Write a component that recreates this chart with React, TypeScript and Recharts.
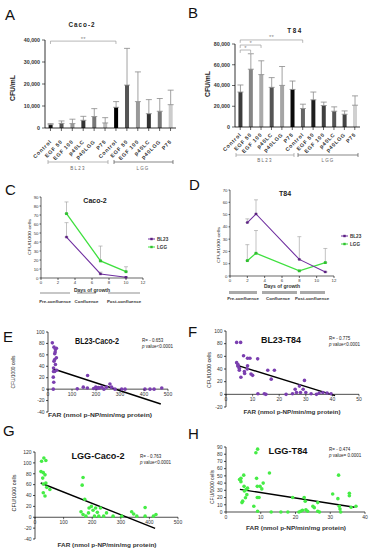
import React from "react";
import {
  BarChart, Bar, Cell, XAxis, YAxis, ErrorBar,
  LineChart, Line, ScatterChart, Scatter, ReferenceLine,
} from "recharts";

const FONT = "'Liberation Sans', Arial, Helvetica, sans-serif";
const PURPLE = "#7030a0";
const GREEN = "#3fe03f";
const DOT_PURPLE = "#7b3fb0";
const DOT_GREEN = "#45ec45";

const TREATMENTS = ["Control", "EGF 50", "EGF 100", "p40LC", "p40LGG", "P75"];
const STRAINS = ["BL23", "LGG"];

// A: Caco-2 adhesion, CFU/mL (6 BL23 then 6 LGG)
const CACO2_CFU = [1500, 2100, 2000, 3500, 5200, 2300, 9400, 19500, 12000, 6500, 7600, 10600];
const CACO2_SD = [500, 1100, 2000, 1800, 3600, 2400, 2600, 16700, 13500, 6400, 5800, 6600];
const CACO2_FILL = ["#111", "#555", "#999", "#333", "#777", "#bbb", "#000", "#555", "#999", "#333", "#777", "#ccc"];

// B: T84 adhesion, CFU/mL
const T84_CFU = [33700, 55700, 50500, 38200, 40100, 36200, 17800, 26200, 20700, 15200, 12300, 21000];
const T84_SD = [6800, 14900, 13300, 9400, 18200, 8100, 4200, 7500, 3300, 4200, 3200, 9000];
const T84_FILL = ["#3c3c3c", "#858585", "#aaa", "#555", "#a5a5a5", "#0a0a0a", "#666", "#1e1e1e", "#404040", "#555", "#444", "#d0d0d0"];

// C: Caco-2, CFU/1000 cells by day of growth
const DAYS_CACO2 = [3, 7, 10];
const BL23_CACO2 = [45.5, 4.5, 0.8];
const BL23_CACO2_SD = [16, 2, 0.5];
const LGG_CACO2 = [71.5, 19, 7];
const LGG_CACO2_SD = [13, 16.5, 5.5];

// D: T84
const DAYS_T84 = [2, 3, 8, 11];
const BL23_T84 = [43.5, 50.5, 13.5, 3.3];
const BL23_T84_SD = [3, 11.5, 18.5, 0];
const LGG_T84 = [12.5, 18.5, 4.2, 10.9];
const LGG_T84_SD = [13, 18.5, 0, 11.5];

// E-H: FAR (nmol p-NP/min/mg protein) vs CFU/1000 cells
const E_FAR = [18, 22, 25, 31, 28, 35, 25, 31, 23, 28, 22, 28, 35, 23, 36, 24, 30, 122, 147, 164, 165, 190, 199, 205, 210, 214, 224, 233, 244, 258, 265, 279, 307, 321, 404, 425, 442, 474];
const E_CFU = [81, 0, 73.5, 69.5, 62, 71.5, 49, 43, 31, 31, 21, 52, 55, 37, 33, 12, 65, 0.5, 3.5, 2, 24, 1, 3.5, 1, 3, 2, 3.5, 0, 3.5, 9, 3.5, 0, 0, 0, 0, 0, 0, 2];
const E_FIT_X = [20, 470];
const E_FIT_Y = [35.7, -26];

const F_FAR = [4, 5.5, 4, 4.5, 5, 6.6, 8.1, 9, 5, 5.6, 6.9, 8.1, 9.4, 11.9, 15.7, 18.2, 17, 14.4, 15, 12, 22.6, 25, 26, 27.6, 29.5, 28, 30, 32, 34, 35, 36.4, 38, 39.5, 8, 7, 26.5, 29, 4.5, 10];
const F_CFU = [82, 82, 50, 44.5, 41, 61, 57, 57, 38, 27, 36, 45, 32, 56, 38, 38, 24, 1, 0, 1, 0, 1, 8, 13, 22, 3, 3, 1, 0, 2, 3, 2, 1, 40, 33, 3, 8, 47, 30];
const F_FIT_X = [4, 41];
const F_FIT_Y = [46, -2];

const G_FAR = [23, 31, 38, 21, 29, 35, 27, 38, 41, 52, 35, 29, 29, 168, 165, 174, 161, 168, 178, 187, 189, 197, 203, 208, 212, 218, 229, 223, 240, 250, 273, 303, 338, 345, 356, 385, 385, 414, 423];
const G_CFU = [103, 109, 104.5, 84, 82, 78, 72, 63, 55, 51, 39, 45, 61, 73, 59, 33, 10, 5, 2, 8, 17, 20, 13, 2, 17, 9, 17, 2, 2, 8, 2, 2, 10, 6, 2, 18, 2, 2, 5];
const G_FIT_X = [20, 420];
const G_FIT_Y = [63, -20.4];

const H_FAR = [4.3, 5.1, 4.3, 5.2, 4.8, 5.6, 5.8, 6.2, 6, 5.3, 8.6, 9.1, 8, 8.8, 9, 9, 9.5, 9.8, 10.7, 9.1, 10.3, 12.5, 13, 15.8, 17.8, 19.2, 21, 21.5, 22.5, 22.8, 22, 23, 23.5, 25, 25.4, 26.4, 26.4, 26.9, 30.7, 32.2, 32.4, 32.6, 32.8, 33, 35.5, 35.5, 36, 37.4, 4.6, 3.9];
const H_CFU = [46.6, 51, 42, 35.5, 15, 19.8, 31, 33, 24, 29, 82, 87, 8, 46.6, 35.5, 20, 20, 35.5, 40, 1, 32, 54, 0, 0, 0, 20, 0, 1, 20, 15, 2.5, 3, 1, 8, 6, 13, 1, 0, 25, 18.5, 51, 8, 4, 0, 26, 22.5, 6.5, 8, 13, 45];
const H_FIT_X = [4, 37];
const H_FIT_Y = [31.4, 6.5];

type Margin = { top: number; right: number; bottom: number; left: number };
type Sig = { from: number; to: number; at: number; drop: number; mark: string };

const range = (lo: number, hi: number, step: number) => {
  const out: number[] = [];
  for (let v = lo; v <= hi + 1e-9; v += step) out.push(v);
  return out;
};

const barRows = (cfu: number[], sd: number[]) =>
  cfu.map((v, i) => ({
    id: `${STRAINS[Math.floor(i / TREATMENTS.length)]}|${TREATMENTS[i % TREATMENTS.length]}`,
    cfu: v,
    sd: [0, sd[i]],
  }));

const growthRows = (days: number[], bl: number[], blSd: number[], lgg: number[], lggSd: number[]) =>
  days.map((d, i) => ({ day: d, bl23: bl[i], bl23Sd: [0, blSd[i]], lgg: lgg[i], lggSd: [0, lggSd[i]] }));

const BarTick = (p: any) => {
  const label = String(p.payload.value).split("|")[1];
  const ax = p.x + 1.5;
  const ay = p.y + p.dy;
  return (
    <text x={ax} y={ay} transform={`rotate(-45 ${ax} ${ay})`} textAnchor="end" fontSize={5.3}
      fontWeight="bold" letterSpacing={0.7} fill="#333" fontFamily={FONT}>
      {label}
    </text>
  );
};

function CfuBars(props: {
  cfu: number[]; sd: number[]; fills: string[]; width: number; height: number; margin: Margin;
  yAxisWidth: number; yMax: number; yStep: number; tickDy: number; sig: Sig[];
}) {
  const { cfu, sd, fills, width, height, margin, yAxisWidth, yMax, yStep, tickDy, sig } = props;
  const rows = barRows(cfu, sd);
  const bracket = { stroke: "#9a9a9a", strokeWidth: 0.7, ifOverflow: "visible" as const };
  return (
    <BarChart width={width} height={height} data={rows} margin={margin} barCategoryGap="33%">
      <XAxis dataKey="id" interval={0} height={30} tickSize={3}
        tickLine={{ stroke: "#000", strokeWidth: 0.6 }} axisLine={{ stroke: "#000", strokeWidth: 0.8 }}
        tick={(p: any) => <BarTick key={p.index} {...p} dy={tickDy} />} />
      <YAxis type="number" width={yAxisWidth} domain={[0, yMax]} ticks={range(0, yMax, yStep)} interval={0}
        tickSize={3} tickLine={{ stroke: "#000", strokeWidth: 0.6 }} axisLine={{ stroke: "#000", strokeWidth: 0.8 }}
        tick={{ fontSize: 5.3, fontWeight: "bold", fill: "#333", fontFamily: FONT }}
        tickFormatter={(v: number) => v.toLocaleString("en-US")} />
      <Bar dataKey="cfu" isAnimationActive={false}>
        {rows.map((r, i) => <Cell key={r.id} fill={fills[i]} />)}
        <ErrorBar dataKey="sd" direction="y" width={3} stroke="#8a8a8a" strokeWidth={0.8} />
      </Bar>
      {sig.flatMap((s, k) => {
        const a = rows[s.from].id;
        const b = rows[s.to].id;
        return [
          <ReferenceLine key={`h${k}`} {...bracket} segment={[{ x: a, y: s.at }, { x: b, y: s.at }]}
            label={{ value: s.mark, position: "top", offset: 0.5, fontSize: 6, fill: "#8a8a8a" }} />,
          <ReferenceLine key={`l${k}`} {...bracket} segment={[{ x: a, y: s.at }, { x: a, y: s.at - s.drop }]} />,
          <ReferenceLine key={`r${k}`} {...bracket} segment={[{ x: b, y: s.at }, { x: b, y: s.at - s.drop }]} />,
        ];
      })}
    </BarChart>
  );
}

function GrowthPanel(props: {
  rows: ReturnType<typeof growthRows>; width: number; height: number; margin: Margin;
  yAxisWidth: number; yMax: number; xAxisHeight: number;
}) {
  const { rows, width, height, margin, yAxisWidth, yMax, xAxisHeight } = props;
  const tick = { fontSize: 4.3, fill: "#333", fontFamily: FONT };
  const axis = { stroke: "#000", strokeWidth: 0.6 };
  return (
    <LineChart width={width} height={height} data={rows} margin={margin}>
      <XAxis type="number" dataKey="day" domain={[0, 12]} ticks={range(0, 12, 2)} interval={0}
        height={xAxisHeight} tickSize={2} tickMargin={1} tick={tick} axisLine={axis} tickLine={axis}
        label={{ value: "Days of growth", position: "insideBottom", offset: 2, fontSize: 5, fontWeight: "bold", fill: "#333" }} />
      <YAxis type="number" domain={[0, yMax]} ticks={range(0, yMax, 10)} interval={0} width={yAxisWidth}
        tickSize={1.5} tickMargin={1} tick={tick} axisLine={axis} tickLine={axis} />
      <Line dataKey="lgg" stroke={GREEN} strokeWidth={1.3} isAnimationActive={false}
        dot={(p: any) => <rect key={p.index} x={p.cx - 1.4} y={p.cy - 1.4} width={2.8} height={2.8} fill="#2fc02f" />}>
        <ErrorBar dataKey="lggSd" direction="y" width={2} stroke="#9a9a9a" strokeWidth={0.6} />
      </Line>
      <Line dataKey="bl23" stroke={PURPLE} strokeWidth={1.1} isAnimationActive={false}
        dot={(p: any) => <rect key={p.index} x={p.cx - 1.2} y={p.cy - 1.2} width={2.4} height={2.4} fill="#5a1f80" />}>
        <ErrorBar dataKey="bl23Sd" direction="y" width={2} stroke="#9a9a9a" strokeWidth={0.6} />
      </Line>
    </LineChart>
  );
}

const CrossTick = (p: any) => {
  const zeroY = p.y - p.shift;
  return (
    <g>
      <line x1={p.x} x2={p.x} y1={zeroY} y2={zeroY + 2} stroke="#000" strokeWidth={0.6} />
      <text x={p.x} y={zeroY + 3} dy="0.72em" textAnchor="middle" fontSize={5} fill="#333" fontFamily={FONT}>
        {p.payload.value}
      </text>
    </g>
  );
};

function FarPanel(props: {
  far: number[]; cfu: number[]; fitX: number[]; fitY: number[]; color: string;
  width: number; height: number; margin: Margin; yAxisWidth: number; xAxisHeight: number;
  xMax: number; xStep: number; yMin: number; yMax: number; yStep: number;
}) {
  const { far, cfu, fitX, fitY, color, width, height, margin, yAxisWidth, xAxisHeight, xMax, xStep, yMin, yMax, yStep } = props;
  const pts = far.map((x, i) => ({ far: x, cfu: cfu[i] }));
  const plotH = height - margin.top - margin.bottom - xAxisHeight;
  const shift = (plotH * (0 - yMin)) / (yMax - yMin);
  const axis = { stroke: "#000", strokeWidth: 0.7 };
  return (
    <ScatterChart width={width} height={height} margin={margin}>
      <XAxis type="number" dataKey="far" domain={[0, xMax]} ticks={range(0, xMax, xStep)} interval={0}
        height={xAxisHeight} tickSize={0} tickMargin={0} tickLine={false}
        axisLine={yMin < 0 ? false : axis}
        tick={(p: any) => <CrossTick key={p.index} {...p} shift={shift} />} />
      <YAxis type="number" dataKey="cfu" domain={[yMin, yMax]} ticks={range(yMin, yMax, yStep)} interval={0}
        width={yAxisWidth} tickSize={2} tickMargin={1.5} axisLine={axis} tickLine={axis}
        tick={{ fontSize: 5, fill: "#333", fontFamily: FONT }} />
      {yMin < 0 && <ReferenceLine y={0} stroke="#000" strokeWidth={0.7} />}
      <Scatter data={pts} fill={color} isAnimationActive={false}
        shape={(p: any) => <circle cx={p.cx} cy={p.cy} r={1.8} fill={color} />} />
      <ReferenceLine segment={[{ x: fitX[0], y: fitY[0] }, { x: fitX[1], y: fitY[1] }]}
        stroke="#000" strokeWidth={1.4} ifOverflow="visible" />
    </ScatterChart>
  );
}

const Abs = ({ left, top, children }: { left: number; top: number; children: React.ReactNode }) => (
  <div style={{ position: "absolute", left, top }}>{children}</div>
);

function VText({ x, y, len, size, bold, children }: any) {
  return (
    <text x={x} y={y} transform={`rotate(-90 ${x} ${y})`} textAnchor="middle" fontSize={size}
      fontWeight={bold ? "bold" : "normal"} textLength={len} lengthAdjust="spacingAndGlyphs" fill="#222">
      {children}
    </text>
  );
}

function Overlay() {
  const letters: [string, number, number][] = [
    ["A", 5, 20], ["B", 188, 18], ["C", 5, 195], ["D", 189, 190],
    ["E", 3, 342], ["F", 188, 337], ["G", 3, 436], ["H", 188, 439],
  ];
  const group = (x1: number, x2: number, y: number, color: string) => (
    <g stroke={color} strokeWidth={0.7}>
      <line x1={x1} x2={x2} y1={y} y2={y} />
      <line x1={x1} x2={x1} y1={y - 2} y2={y + 2} />
      <line x1={x2} x2={x2} y1={y - 2} y2={y + 2} />
    </g>
  );
  const legend = (x: number, y: number, color: string, mark: string, label: string) => (
    <g>
      <line x1={x} x2={x + 7} y1={y} y2={y} stroke={color} strokeWidth={1} />
      <rect x={x + 2.3} y={y - 1.2} width={2.4} height={2.4} fill={mark} />
      <text x={x + 9} y={y + 1.7} fontSize={4.6} fontWeight="bold" fill="#333">{label}</text>
    </g>
  );
  const small = { fontSize: 4.4, fontWeight: "bold" as const, fill: "#333", textAnchor: "middle" as const };
  const rtext = (x: number, y: number, r: string, p: string) => (
    <g fontSize={4.5} fill="#222">
      <text x={x} y={y}>{r}</text>
      <text x={x} y={y + 6}><tspan fontStyle="italic">p</tspan>{p}</text>
    </g>
  );
  return (
    <svg width={372} height={550} fontFamily={FONT}
      style={{ position: "absolute", left: 0, top: 0, pointerEvents: "none" }}>
      {letters.map(([s, x, y]) => (
        <text key={s} x={x} y={y} fontSize={15} fill="#111">{s}</text>
      ))}

      {/* A / B titles, axis names, strain groups */}
      <text x={82} y={27} fontSize={6.3} fontWeight="bold" letterSpacing={1} textAnchor="middle" fill="#222">Caco-2</text>
      <text x={295} y={33} fontSize={6.3} fontWeight="bold" letterSpacing={1.5} textAnchor="middle" fill="#222">T84</text>
      <VText x={15} y={88} len={26} size={8} bold>CFU/mL</VText>
      <VText x={210} y={84} len={26} size={8} bold>CFU/mL</VText>
      {group(48, 108, 162, "#9a9a9a")}
      {group(114, 173, 162, "#555")}
      <text x={78} y={170} fontSize={4.5} letterSpacing={1.2} textAnchor="middle" fill="#666">BL23</text>
      <text x={143} y={170} fontSize={4.5} letterSpacing={1.2} textAnchor="middle" fill="#666">LGG</text>
      {group(236, 294, 155, "#9a9a9a")}
      {group(298, 358, 155, "#555")}
      <text x={265} y={162} fontSize={4.5} letterSpacing={1.2} textAnchor="middle" fill="#666">BL23</text>
      <text x={328} y={162} fontSize={4.5} letterSpacing={1.2} textAnchor="middle" fill="#666">LGG</text>

      {/* C / D */}
      <text x={95} y={203} fontSize={7} fontWeight="bold" textAnchor="middle" fill="#222">Caco-2</text>
      <text x={285} y={196} fontSize={7} fontWeight="bold" textAnchor="middle" fill="#222">T84</text>
      <VText x={31} y={237} len={36} size={4.3}>CFU/1000 cells</VText>
      <VText x={219.5} y={245} len={36} size={4.3}>CFU/1000 cells</VText>
      {legend(148, 239, PURPLE, "#5a1f80", "BL23")}
      {legend(148, 247, GREEN, "#2fc02f", "LGG")}
      {legend(341, 236, PURPLE, "#5a1f80", "BL23")}
      {legend(341, 244, GREEN, "#2fc02f", "LGG")}
      <g stroke="#444" strokeWidth={0.6}>
        <line x1={40} x2={70} y1={293} y2={293} />
        <line x1={77} x2={96} y1={293} y2={293} />
        <line x1={108} x2={140} y1={293} y2={293} />
      </g>
      <text x={55} y={302.5} {...small}>Pre-confluence</text>
      <text x={86.5} y={302.5} {...small}>Confluence</text>
      <text x={124} y={302.5} {...small}>Post-confluence</text>
      <g fill="#aaa">
        <rect x={229} y={291} width={28} height={3} />
        <rect x={262} y={291} width={35} height={3} />
        <rect x={300} y={291} width={25} height={3} />
      </g>
      <text x={243} y={299.5} {...small}>Pre-confluence</text>
      <text x={278} y={299.5} {...small}>Confluence</text>
      <text x={312} y={299.5} {...small}>Post-confluence</text>

      {/* E - H */}
      <text x={97} y={344} fontSize={9.5} fontWeight="bold" textAnchor="middle" textLength={44} lengthAdjust="spacingAndGlyphs" fill="#111">BL23-Caco-2</text>
      <text x={281} y={343} fontSize={9.5} fontWeight="bold" textAnchor="middle" textLength={40} lengthAdjust="spacingAndGlyphs" fill="#111">BL23-T84</text>
      <text x={98} y={459} fontSize={9.5} fontWeight="bold" textAnchor="middle" textLength={53} lengthAdjust="spacingAndGlyphs" fill="#111">LGG-Caco-2</text>
      <text x={288} y={454} fontSize={9.5} fontWeight="bold" textAnchor="middle" textLength={39} lengthAdjust="spacingAndGlyphs" fill="#111">LGG-T84</text>
      {rtext(142, 342, "R= - 0.653", " value<0.0001")}
      {rtext(329, 340, "R= - 0.775", " value<0.0001")}
      {rtext(140, 458, "R= - 0.763", " value<0.0001")}
      {rtext(329, 451, "R= - 0.474", " value= 0.0001")}
      <VText x={14.5} y={372} len={33} size={6}>CFU/1000 cells</VText>
      <VText x={210.5} y={370} len={36} size={6}>CFU/1000 cells</VText>
      <VText x={15.5} y={493} len={37} size={6}>CFU/1000 cells</VText>
      <VText x={213.5} y={487} len={34} size={6}>CFU/1000 cells</VText>
      <text x={100} y={417} fontSize={6} fontWeight="bold" textAnchor="middle" textLength={104} lengthAdjust="spacingAndGlyphs" fill="#333">FAR (nmol p-NP/min/mg protein)</text>
      <text x={292} y={414} fontSize={6} fontWeight="bold" textAnchor="middle" textLength={97} lengthAdjust="spacingAndGlyphs" fill="#333">FAR (nmol p-NP/min/mg protein)</text>
      <text x={107} y={547} fontSize={6} fontWeight="bold" textAnchor="middle" textLength={99} lengthAdjust="spacingAndGlyphs" fill="#333">FAR (nmol p-NP/min/mg protein)</text>
      <text x={296} y={530} fontSize={6} fontWeight="bold" textAnchor="middle" textLength={100} lengthAdjust="spacingAndGlyphs" fill="#333">FAR (nmol p-NP/min/mg protein)</text>
    </svg>
  );
}

export default function App() {
  const caco2Growth = growthRows(DAYS_CACO2, BL23_CACO2, BL23_CACO2_SD, LGG_CACO2, LGG_CACO2_SD);
  const t84Growth = growthRows(DAYS_T84, BL23_T84, BL23_T84_SD, LGG_T84, LGG_T84_SD);
  return (
    <div style={{ position: "absolute", left: 0, top: 0, width: 372, height: 550, background: "#fff", overflow: "hidden", fontFamily: FONT }}>
      <Abs left={0} top={0}>
        <CfuBars cfu={CACO2_CFU} sd={CACO2_SD} fills={CACO2_FILL} width={186} height={160}
          margin={{ top: 40, right: 10, bottom: 2, left: 0 }} yAxisWidth={45} yMax={40000} yStep={10000} tickDy={9}
          sig={[{ from: 0, to: 6, at: 39500, drop: 1300, mark: "**" }]} />
      </Abs>
      <Abs left={186} top={0}>
        <CfuBars cfu={T84_CFU} sd={T84_SD} fills={T84_FILL} width={186} height={160}
          margin={{ top: 44, right: 12, bottom: 3, left: 0 }} yAxisWidth={49} yMax={80000} yStep={20000} tickDy={3}
          sig={[
            { from: 0, to: 1, at: 74200, drop: 2800, mark: "*" },
            { from: 0, to: 2, at: 79000, drop: 2800, mark: "*" },
            { from: 0, to: 6, at: 83900, drop: 2800, mark: "**" },
          ]} />
      </Abs>
      <Abs left={0} top={185}>
        <GrowthPanel rows={caco2Growth} width={186} height={109} margin={{ top: 12, right: 43, bottom: 0, left: 10 }}
          yAxisWidth={31} yMax={90} xAxisHeight={16} />
      </Abs>
      <Abs left={186} top={180}>
        <GrowthPanel rows={t84Growth} width={186} height={110} margin={{ top: 10, right: 38, bottom: 0, left: 14 }}
          yAxisWidth={30} yMax={70} xAxisHeight={14} />
      </Abs>
      <Abs left={0} top={325}>
        <FarPanel far={E_FAR} cfu={E_CFU} fitX={E_FIT_X} fitY={E_FIT_Y} color={DOT_PURPLE} width={186} height={97}
          margin={{ top: 7, right: 18, bottom: 0, left: 18 }} yAxisWidth={30} xAxisHeight={10}
          xMax={500} xStep={100} yMin={-40} yMax={100} yStep={20} />
      </Abs>
      <Abs left={186} top={325}>
        <FarPanel far={F_FAR} cfu={F_CFU} fitX={F_FIT_X} fitY={F_FIT_Y} color={DOT_PURPLE} width={186} height={92}
          margin={{ top: 6, right: 13, bottom: 0, left: 10 }} yAxisWidth={30} xAxisHeight={10}
          xMax={50} xStep={10} yMin={-20} yMax={100} yStep={20} />
      </Abs>
      <Abs left={0} top={445}>
        <FarPanel far={G_FAR} cfu={G_CFU} fitX={G_FIT_X} fitY={G_FIT_Y} color={DOT_GREEN} width={186} height={104}
          margin={{ top: 7, right: 8, bottom: 0, left: 10 }} yAxisWidth={25} xAxisHeight={10}
          xMax={500} xStep={100} yMin={-40} yMax={120} yStep={20} />
      </Abs>
      <Abs left={186} top={440}>
        <FarPanel far={H_FAR} cfu={H_CFU} fitX={H_FIT_X} fitY={H_FIT_Y} color={DOT_GREEN} width={186} height={86}
          margin={{ top: 7, right: 7, bottom: 0, left: 10 }} yAxisWidth={30} xAxisHeight={14}
          xMax={40} xStep={10} yMin={0} yMax={90} yStep={10} />
      </Abs>
      <Overlay />
    </div>
  );
}
